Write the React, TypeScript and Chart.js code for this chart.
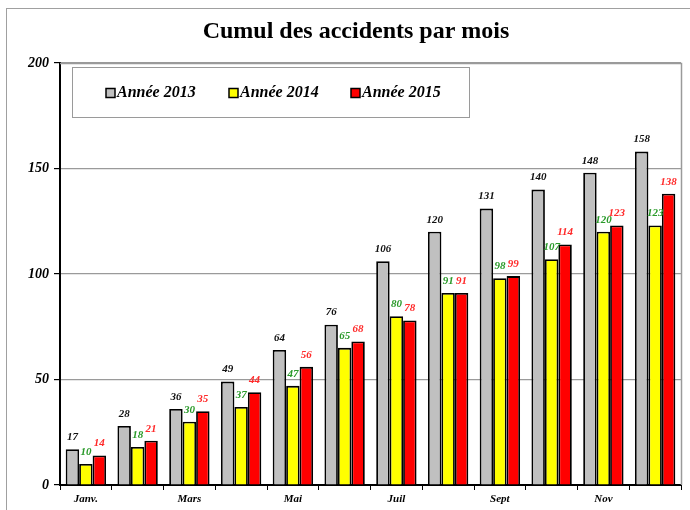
import React, { useEffect, useRef } from "react";
import { Chart, registerables } from "chart.js";

Chart.register(...registerables);

const chartTitle = "Cumul des accidents par mois";
const months = ["Janv.", "Févr.", "Mars", "Avr.", "Mai", "Juin", "Juil", "Août", "Sept", "Oct", "Nov", "Déc."];
const values2013 = [17, 28, 36, 49, 64, 76, 106, 120, 131, 140, 148, 158];
const values2014 = [10, 18, 30, 37, 47, 65, 80, 91, 98, 107, 120, 123];
const values2015 = [14, 21, 35, 44, 56, 68, 78, 91, 99, 114, 123, 138];
const seriesNames = ["Année 2013", "Année 2014", "Année 2015"];
const yTicks = [0, 50, 100, 150, 200];

const FONT = '"Liberation Serif", "Times New Roman", serif';
const labelColors = ["#111111", "#2a9a2a", "#ff2a2a"];

const titlePlugin = {
  id: "customTitle",
  afterDraw(chart: any) {
    const { ctx } = chart;
    ctx.save();
    ctx.font = `bold 24px ${FONT}`;
    ctx.fillStyle = "#000";
    ctx.textAlign = "center";
    ctx.textBaseline = "middle";
    ctx.fillText(chartTitle, 356, 32);
    ctx.restore();
  },
};

const frameBorderPlugin = {
  id: "frameBorder",
  beforeDatasetsDraw(chart: any) {
    const { ctx, chartArea } = chart;
    ctx.save();
    ctx.strokeStyle = "#9a9a9a";
    ctx.lineWidth = 1.5;
    ctx.beginPath();
    ctx.moveTo(chartArea.left, chartArea.top + 0.5);
    ctx.lineTo(chartArea.right + 0.5, chartArea.top + 0.5);
    ctx.lineTo(chartArea.right + 0.5, chartArea.bottom);
    ctx.stroke();
    ctx.restore();
  },
};

const valueLabelsPlugin = {
  id: "valueLabels",
  afterDatasetsDraw(chart: any) {
    const { ctx } = chart;
    ctx.save();
    ctx.font = `italic bold 11px ${FONT}`;
    ctx.textAlign = "center";
    ctx.textBaseline = "middle";
    chart.data.datasets.forEach((ds: any, i: number) => {
      const meta = chart.getDatasetMeta(i);
      ctx.fillStyle = labelColors[i];
      meta.data.forEach((el: any, j: number) => {
        ctx.fillText(String(ds.data[j]), el.x, el.y - 12);
      });
    });
    ctx.restore();
  },
};

const boxLegendPlugin = {
  id: "boxLegend",
  afterDraw(chart: any) {
    const { ctx } = chart;
    const bx = 72, by = 67, bw = 397, bh = 50;
    ctx.save();
    ctx.fillStyle = "#ffffff";
    ctx.fillRect(bx, by, bw, bh);
    ctx.strokeStyle = "#9a9a9a";
    ctx.lineWidth = 1;
    ctx.strokeRect(bx + 0.5, by + 0.5, bw, bh);
    ctx.font = `italic bold 16px ${FONT}`;
    ctx.textBaseline = "middle";
    ctx.textAlign = "left";
    const starts = [106, 229, 351];
    const cy = by + 26;
    chart.data.datasets.forEach((ds: any, i: number) => {
      const x = starts[i];
      ctx.fillStyle = ds.backgroundColor;
      ctx.fillRect(x, cy - 4.5, 9, 9);
      ctx.strokeStyle = "#000";
      ctx.lineWidth = 1.5;
      ctx.strokeRect(x, cy - 4.5, 9, 9);
      ctx.fillStyle = "#000";
      ctx.fillText(ds.label, x + 11, cy);
    });
    ctx.restore();
  },
};

export default function App() {
  const canvasRef = useRef<HTMLCanvasElement | null>(null);

  useEffect(() => {
    const canvas = canvasRef.current;
    if (!canvas) return;
    const chart = new Chart(canvas, {
      type: "bar",
      data: {
        labels: months,
        datasets: [
          { label: seriesNames[0], data: values2013, backgroundColor: "#c0c0c0", borderColor: "#000", borderWidth: 1.8 },
          { label: seriesNames[1], data: values2014, backgroundColor: "#ffff00", borderColor: "#000", borderWidth: 1.8 },
          { label: seriesNames[2], data: values2015, backgroundColor: "#ff0000", borderColor: "#000", borderWidth: 1.8 },
        ],
      },
      options: {
        responsive: false,
        animation: false,
        layout: { padding: { left: 0, right: 9, top: 63, bottom: 0 } },
        datasets: { bar: { categoryPercentage: 0.78, barPercentage: 1.0 } },
        plugins: {
          legend: { display: false },
          tooltip: { enabled: false },
          title: { display: false },
        },
        scales: {
          x: {
            grid: { display: true, drawOnChartArea: false, drawTicks: true, tickLength: 5, color: "#000", offset: true },
            border: { display: true, color: "#000", width: 2 },
            ticks: {
              autoSkip: false,
              maxRotation: 0,
              padding: 3,
              color: "#000",
              font: { family: FONT, size: 11, style: "italic", weight: "bold" },
              callback: (_v: any, i: number) => (i % 2 === 0 ? months[i] : ""),
            },
            afterFit: (scale: any) => {
              scale.height = 25;
            },
          },
          y: {
            min: 0,
            max: 200,
            afterBuildTicks: (scale: any) => {
              scale.ticks = yTicks.map((v) => ({ value: v }));
            },
            grid: {
              color: (c: any) => (c.tick && c.tick.value === 0 ? "#000" : "#9a9a9a"),
              tickColor: "#000",
              tickLength: 6,
              lineWidth: 1.2,
            },
            border: { display: true, color: "#000", width: 2 },
            ticks: {
              padding: 5,
              color: "#000",
              font: { family: FONT, size: 14, style: "italic", weight: "bold" },
            },
            afterFit: (scale: any) => {
              scale.width = 60;
            },
          },
        },
      },
      plugins: [frameBorderPlugin, valueLabelsPlugin, boxLegendPlugin, titlePlugin],
    });
    return () => chart.destroy();
  }, []);

  return (
    <div style={{ position: "fixed", left: 0, top: 0, width: 690, height: 510, background: "#fff", overflow: "hidden" }}>
      <div
        style={{
          position: "absolute",
          left: 6,
          top: 8,
          width: 700,
          height: 520,
          border: "1.5px solid #a0a0a0",
          boxSizing: "border-box",
        }}
      />
      <canvas ref={canvasRef} width={690} height={510} style={{ position: "absolute", left: 0, top: 0 }} />
    </div>
  );
}
